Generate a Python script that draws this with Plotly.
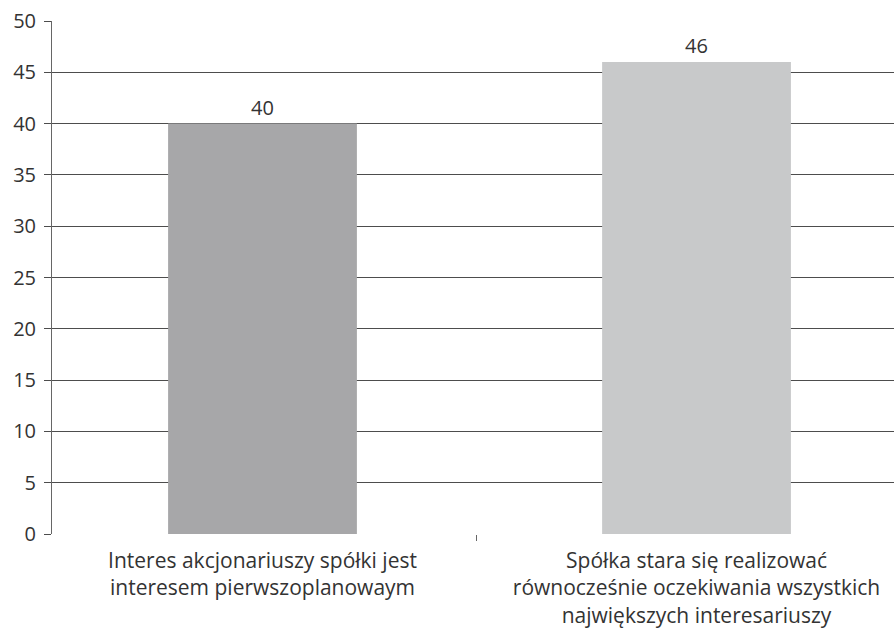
import plotly.graph_objects as go

# Survey answers and their shares (%)
categories = [
    "Interes akcjonariuszy spółki jest<br>interesem pierwszoplanowaym",
    "Spółka stara się realizować<br>równocześnie oczekiwania wszystkich<br>największych interesariuszy",
]
values = [40, 46]
bar_colors = ["#a7a7a9", "#c8c9ca"]
y_ticks = [0, 5, 10, 15, 20, 25, 30, 35, 40, 45, 50]

positions = list(range(len(categories)))

fig = go.Figure()
fig.add_trace(go.Bar(
    x=positions,
    y=values,
    width=0.435,
    marker=dict(color=bar_colors, line=dict(width=0)),
    text=[str(v) for v in values],
    textposition="outside",
    textfont=dict(size=20, color="#333333"),
    cliponaxis=False,
    hoverinfo="skip",
))

fig.update_layout(
    width=894,
    height=632,
    margin=dict(l=52, r=0, t=21, b=98),
    paper_bgcolor="white",
    plot_bgcolor="white",
    font=dict(family="'Open Sans', sans-serif", color="#333333", size=20),
    showlegend=False,
    xaxis=dict(
        range=[-0.485, 1.455],
        tickvals=positions,
        ticktext=categories,
        ticks="",
        showgrid=False,
        zeroline=False,
        showline=False,
        automargin=False,
        ticklabelstandoff=12,
        tickfont=dict(size=21, color="#333333"),
        minor=dict(tick0=0.492, dtick=1, ticks="outside", ticklen=6,
                   tickcolor="#666666", tickwidth=1, showgrid=False),
    ),
    yaxis=dict(
        range=[0, 50],
        tickvals=y_ticks,
        ticks="outside",
        ticklen=7,
        tickcolor="#4d4d4d",
        showgrid=True,
        gridcolor="#4d4d4d",
        gridwidth=1,
        zeroline=False,
        showline=True,
        linecolor="#666666",
        linewidth=1,
        automargin=False,
        ticklabelstandoff=4,
        tickfont=dict(size=20, color="#333333"),
    ),
)

fig.write_html("out.html")
